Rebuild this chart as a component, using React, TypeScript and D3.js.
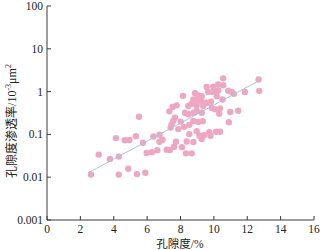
import React from "react";
import * as d3 from "d3";

const porosity = [
  2.64, 3.10, 3.77, 4.30, 4.13, 4.66, 4.94, 4.87, 4.30, 5.33, 5.39, 5.51, 5.75, 5.89, 5.97, 6.29,
  6.38, 6.61, 6.74, 6.74, 6.92, 7.17, 7.37, 7.61, 7.73, 8.09, 8.37, 8.77, 8.33, 8.67, 7.41, 8.21,
  8.53, 8.53, 8.97, 9.27, 9.14, 9.41, 9.72, 9.80, 10.13, 10.37, 7.67, 7.57, 7.47, 8.01, 8.77, 9.07,
  9.33, 10.90, 7.77, 7.53, 7.33, 8.47, 8.67, 8.27, 8.47, 8.77, 9.27, 10.07, 10.37, 10.32, 10.98, 11.46,
  8.15, 8.87, 9.07, 9.27, 10.17, 10.52, 8.77, 9.03, 9.27, 9.57, 9.83, 10.56, 10.26, 10.56, 9.96, 9.57,
  9.66, 9.96, 10.26, 10.86, 11.07, 11.20, 11.86, 12.68, 12.72, 8.97, 9.36, 9.87, 8.97, 7.87,
];
const permeability = [
  0.0116, 0.0337, 0.0268, 0.0303, 0.082, 0.073, 0.074, 0.0157, 0.0115, 0.091, 0.0118, 0.258, 0.064, 0.0127, 0.0369, 0.0385,
  0.0894, 0.0428, 0.098, 0.067, 0.075, 0.044, 0.0433, 0.0516, 0.0674, 0.050, 0.0685, 0.0667, 0.0361, 0.0361, 0.144, 0.150,
  0.167, 0.1016, 0.118, 0.078, 0.093, 0.096, 0.113, 0.093, 0.115, 0.115, 0.246, 0.206, 0.173, 0.199, 0.206, 0.196,
  0.203, 0.193, 0.477, 0.435, 0.346, 0.459, 0.519, 0.321, 0.295, 0.321, 0.321, 0.385, 0.406, 0.305, 0.334, 0.357,
  0.795, 0.918, 0.812, 0.783, 0.783, 0.656, 0.656, 0.600, 0.600, 0.548, 0.578, 2.04, 1.46, 1.41, 1.31, 1.28,
  0.984, 0.984, 1.06, 1.04, 0.984, 0.885, 0.984, 1.91, 1.04, 0.472, 0.459, 0.420, 0.352, 0.133,
];

// fitted trend: k = a * exp(b * phi)
const fitCoef = [0.00381, 0.4847];
const fitRange = [2.45, 12.8];

const xTicks = [0, 2, 4, 6, 8, 10, 12, 14, 16];
const yTicks = [0.001, 0.01, 0.1, 1, 10, 100];
const yTickLabels = ["0.001", "0.01", "0.1", "1", "10", "100"];

export default function App() {
  const W = 320, H = 250;
  const x = d3.scaleLinear().domain([0, 16]).range([47, 314]);
  const y = d3.scaleLog().domain([0.001, 100]).range([220, 6]);
  const font = "'Liberation Serif', 'Times New Roman', serif";
  const cjk = "'Noto Sans CJK SC', serif";
  const axisColor = "#3a3a3a";

  const lineData = d3.range(0, 41).map((i) => {
    const px = fitRange[0] + ((fitRange[1] - fitRange[0]) * i) / 40;
    return [px, fitCoef[0] * Math.exp(fitCoef[1] * px)] as [number, number];
  });
  const linePath = d3
    .line<[number, number]>()
    .x((d) => x(d[0]))
    .y((d) => y(d[1]))(lineData) as string;

  return (
    <svg width={W} height={H} style={{ position: "absolute", left: 0, top: 0, background: "#fff" }}>
      <line x1={x(0)} x2={x(16)} y1={y(0.001)} y2={y(0.001)} stroke={axisColor} strokeWidth={1} />
      <line x1={x(0)} x2={x(0)} y1={y(0.001)} y2={y(100)} stroke={axisColor} strokeWidth={1} />
      {xTicks.map((t) => (
        <g key={"xt" + t}>
          <line x1={x(t)} x2={x(t)} y1={y(0.001)} y2={y(0.001) - 4} stroke={axisColor} />
          <text x={x(t)} y={233} textAnchor="middle" fontFamily={font} fontSize={11.5} fill="#222">
            {t}
          </text>
        </g>
      ))}
      {yTicks.map((t, i) => (
        <g key={"yt" + t}>
          <line x1={x(0)} x2={x(0) + 4} y1={y(t)} y2={y(t)} stroke={axisColor} />
          <text x={43} y={y(t) + 4} textAnchor="end" fontFamily={font} fontSize={11.5} fill="#222">
            {yTickLabels[i]}
          </text>
        </g>
      ))}
      {porosity.map((p, i) => (
        <circle key={i} cx={x(p)} cy={y(permeability[i])} r={3.2} fill="#eea7c1" />
      ))}
      <path d={linePath} fill="none" stroke="#a9bfe6" strokeWidth={1} />
      <text x={180} y={248} textAnchor="middle" fontSize={11.5} fill="#222">
        <tspan fontFamily={cjk}>孔隙度</tspan>
        <tspan fontFamily={font}>/%</tspan>
      </text>
      <text transform="translate(16,121) rotate(-90)" textAnchor="middle" fontSize={12} fill="#222">
        <tspan fontFamily={cjk}>孔隙度渗透率</tspan>
        <tspan fontFamily={font}>/10</tspan>
        <tspan fontFamily={font} fontSize={8} dy={-5}>-3</tspan>
        <tspan fontFamily={font} dy={5}>μm</tspan>
        <tspan fontFamily={font} fontSize={8} dy={-5}>2</tspan>
      </text>
    </svg>
  );
}
